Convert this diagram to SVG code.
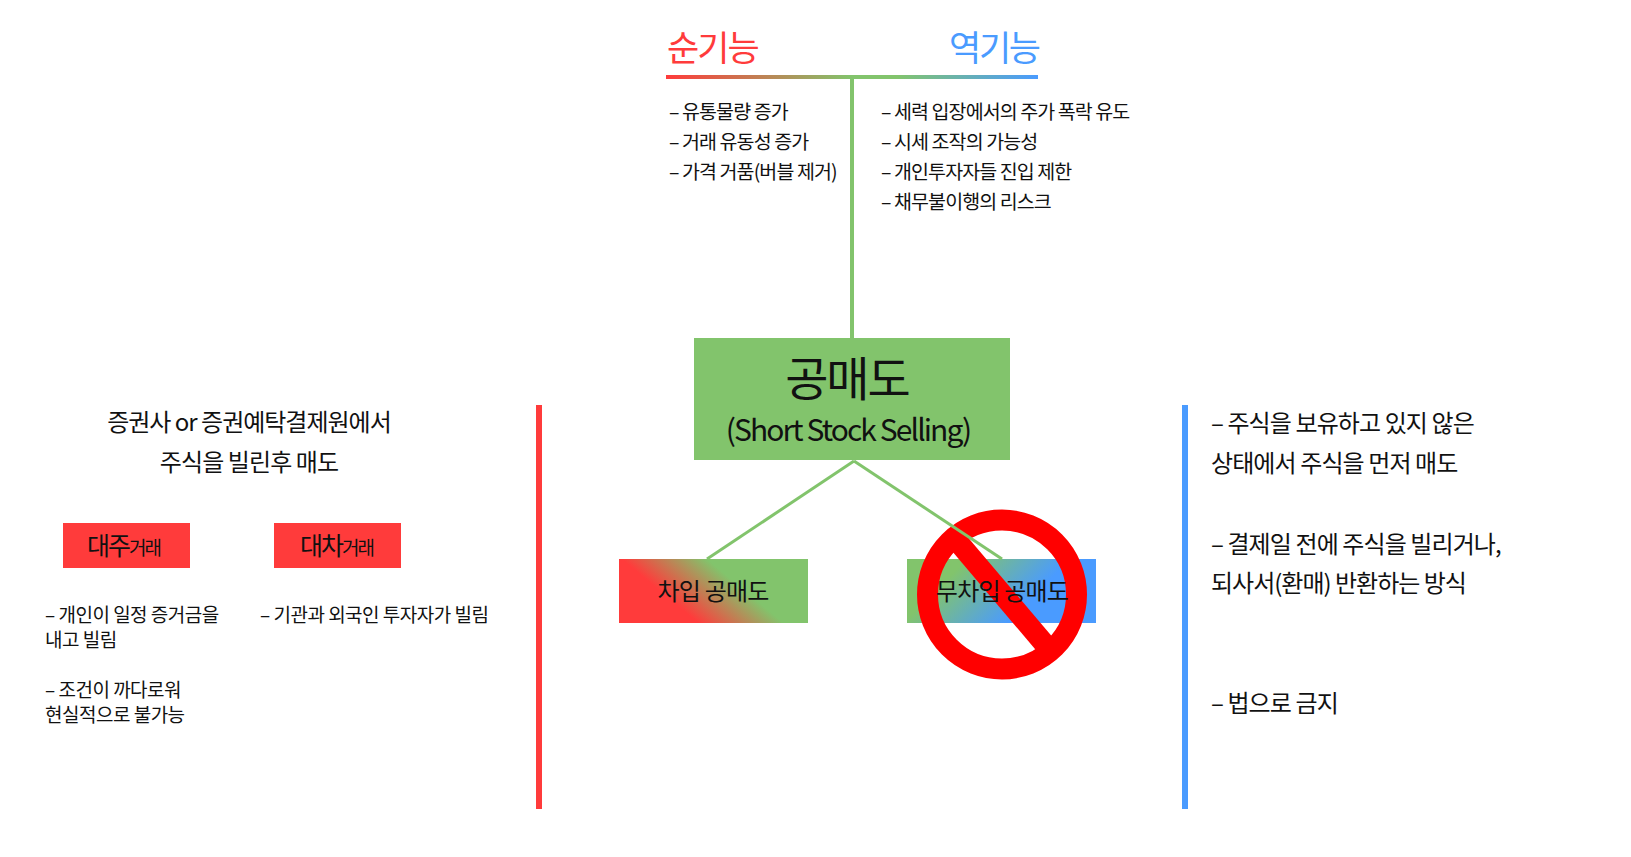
<svg xmlns="http://www.w3.org/2000/svg" width="1631" height="857" viewBox="0 0 1631 857">
<style>
text{font-family:"Noto Sans CJK KR","Noto Sans",sans-serif;fill:#111;letter-spacing:-0.9px}
.s{font-size:19.500px}
.m{font-size:24px}
.l{font-size:19px}
.l text{letter-spacing:-0.5px}
.c{text-anchor:middle}
.g{stroke:#82c46c;fill:none}
</style>
<defs>
<linearGradient id="gTop" gradientUnits="userSpaceOnUse" x1="666" y1="0" x2="1038" y2="0"><stop offset="0" stop-color="#ff3b3b"/><stop offset="0.5" stop-color="#82c46c"/><stop offset="0.62" stop-color="#82c46c"/><stop offset="1" stop-color="#4a9bff"/></linearGradient>
<linearGradient id="gL" gradientUnits="userSpaceOnUse" x1="660" y1="591" x2="695" y2="549"><stop offset="0" stop-color="#ff3b3b"/><stop offset="1" stop-color="#82c46c"/></linearGradient>
<linearGradient id="gR" gradientUnits="userSpaceOnUse" x1="967" y1="559" x2="1019" y2="611"><stop offset="0" stop-color="#82c46c"/><stop offset="1" stop-color="#4a9bff"/></linearGradient>
</defs>
<g id="right-node-shape">
<rect x="907" y="559" width="189" height="64" fill="url(#gR)"/>
</g>
<g id="no-sign">
<circle cx="1002" cy="594.500" r="74.500" fill="none" stroke="#ff0000" stroke-width="21"/>
<line x1="953" y1="536" x2="1051" y2="651.600" stroke="#ff0000" stroke-width="21"/>
</g>
<g id="connectors">
<rect x="666" y="75" width="372" height="4" fill="url(#gTop)"/>
<line class="g" x1="852" y1="79" x2="852" y2="338" stroke-width="4"/>
<line class="g" x1="854" y1="461" x2="707" y2="559" stroke-width="3"/>
<line class="g" x1="854" y1="461" x2="1002" y2="559" stroke-width="3"/>
</g>
<g id="top-labels">
<text x="667" y="61" font-size="35" style="fill:#ff3b3b;letter-spacing:-2px">순기능</text>
<text x="949" y="61" font-size="35" style="fill:#4a9bff;letter-spacing:-2.300px">역기능</text>
<g class="s">
<text x="669" y="119">– 유통물량 증가</text>
<text x="669" y="149">– 거래 유동성 증가</text>
<text x="669" y="179">– 가격 거품(버블 제거)</text>
<text x="881" y="119">– 세력 입장에서의 주가 폭락 유도</text>
<text x="881" y="149">– 시세 조작의 가능성</text>
<text x="881" y="179">– 개인투자자들 진입 제한</text>
<text x="881" y="209">– 채무불이행의 리스크</text>
</g>
</g>
<g id="main">
<rect x="694" y="338" width="316" height="122" fill="#82c46c"/>
<text class="c" x="847" y="396" font-size="47" style="letter-spacing:-2px">공매도</text>
<text class="c" x="848" y="441" font-size="30" style="letter-spacing:-1.900px">(Short Stock Selling)</text>
</g>
<g id="left-node">
<rect x="619" y="559" width="189" height="64" fill="url(#gL)"/>
<text class="c m" x="713" y="600" style="letter-spacing:-0.8px">차입 공매도</text>
</g>
<g id="right-node">
<text class="c m" x="1002" y="600" style="letter-spacing:-0.8px">무차입 공매도</text>
</g>
<g id="left-panel">
<rect x="536" y="405" width="6" height="404" fill="#ff3b3b"/>
<text class="c m" x="249" y="431" style="letter-spacing:-1px">증권사 or 증권예탁결제원에서</text>
<text class="c m" x="249" y="471">주식을 빌린후 매도</text>
</g>
<g id="daeju">
<rect x="63" y="523" width="127" height="45" fill="#ff3b3b"/>
<text x="87" y="555" font-size="25" style="letter-spacing:-2px">대주<tspan font-size="19">거래</tspan></text>
</g>
<g id="daecha">
<rect x="274" y="523" width="127" height="45" fill="#ff3b3b"/>
<text x="300" y="555" font-size="25" style="letter-spacing:-2px">대차<tspan font-size="19">거래</tspan></text>
</g>
<g id="left-notes" class="l">
<text x="45" y="622">– 개인이 일정 증거금을</text>
<text x="45" y="647">내고 빌림</text>
<text x="45" y="697">– 조건이 까다로워</text>
<text x="45" y="722">현실적으로 불가능</text>
<text x="260" y="622">– 기관과 외국인 투자자가 빌림</text>
</g>
<g id="right-panel" class="m">
<rect x="1182" y="405" width="6" height="404" fill="#4a9bff"/>
<text x="1211" y="432">– 주식을 보유하고 있지 않은</text>
<text x="1211" y="472">상태에서 주식을 먼저 매도</text>
<text x="1211" y="553">– 결제일 전에 주식을 빌리거나,</text>
<text x="1211" y="592" style="letter-spacing:-1px">되사서(환매) 반환하는 방식</text>
<text x="1211" y="712">– 법으로 금지</text>
</g>
</svg>
